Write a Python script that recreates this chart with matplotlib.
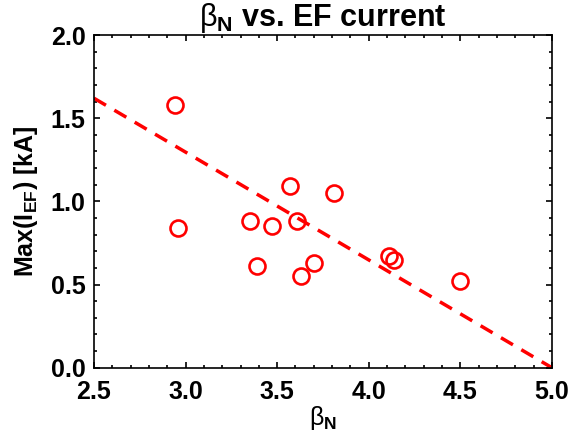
import numpy as np
import matplotlib
matplotlib.use("Agg")
import matplotlib.pyplot as plt
from matplotlib.ticker import MultipleLocator, FormatStrFormatter

# beta_N vs max EF current
beta_n = [2.94, 2.96, 3.35, 3.47, 3.39, 3.57, 3.61, 3.63, 3.70, 3.81, 4.11, 4.14, 4.50]
max_ief = [1.58, 0.84, 0.88, 0.85, 0.61, 1.09, 0.88, 0.55, 0.63, 1.05, 0.67, 0.65, 0.52]

# dashed trend line end points
fit_x = [2.5, 5.0]
fit_y = [1.62, 0.0]

plt.rcParams['font.family'] = ['Liberation Sans', 'DejaVu Sans']
plt.rcParams['mathtext.fontset'] = 'custom'
plt.rcParams['mathtext.rm'] = 'Liberation Sans'
plt.rcParams['mathtext.bf'] = 'Liberation Sans:bold'
plt.rcParams['mathtext.it'] = 'Liberation Sans:italic'

fig = plt.figure(figsize=(5.72, 4.42), dpi=100)
ax = fig.add_axes([0.1643, 0.168, 0.8007, 0.7528])

ax.plot(fit_x, fit_y, color='red', linestyle='--', linewidth=2.5, dashes=(4, 2.8))
ax.plot(beta_n, max_ief, linestyle='none', marker='o', markersize=11.5,
        markerfacecolor='none', markeredgecolor='red', markeredgewidth=1.9)

ax.set_xlim(2.5, 5.0)
ax.set_ylim(0.0, 2.0)
ax.xaxis.set_major_locator(MultipleLocator(0.5))
ax.xaxis.set_minor_locator(MultipleLocator(0.1))
ax.yaxis.set_major_locator(MultipleLocator(0.5))
ax.yaxis.set_minor_locator(MultipleLocator(0.1))
ax.xaxis.set_major_formatter(FormatStrFormatter('%.1f'))
ax.yaxis.set_major_formatter(FormatStrFormatter('%.1f'))

ax.tick_params(which='both', direction='in', top=True, right=True, width=1.2)
ax.tick_params(which='major', length=4.5, labelsize=18)
ax.tick_params(axis='x', which='major', pad=9)
ax.tick_params(axis='y', which='major', pad=6)
ax.tick_params(which='minor', length=2.4)
for lbl in ax.get_xticklabels() + ax.get_yticklabels():
    lbl.set_fontweight('bold')
for sp in ax.spines.values():
    sp.set_linewidth(1.2)

ax.set_title(r'$\mathrm{\beta}_\mathbf{N}$ vs. EF current', fontsize=22, fontweight='bold', pad=4)
ax.set_xlabel(r'$\mathrm{\beta}_\mathbf{N}$', fontsize=18, labelpad=0)
ax.set_ylabel(r'Max(I$_\mathbf{EF}$) [kA]', fontsize=18, fontweight='bold', labelpad=8)

fig.savefig('out.png', dpi=100)
